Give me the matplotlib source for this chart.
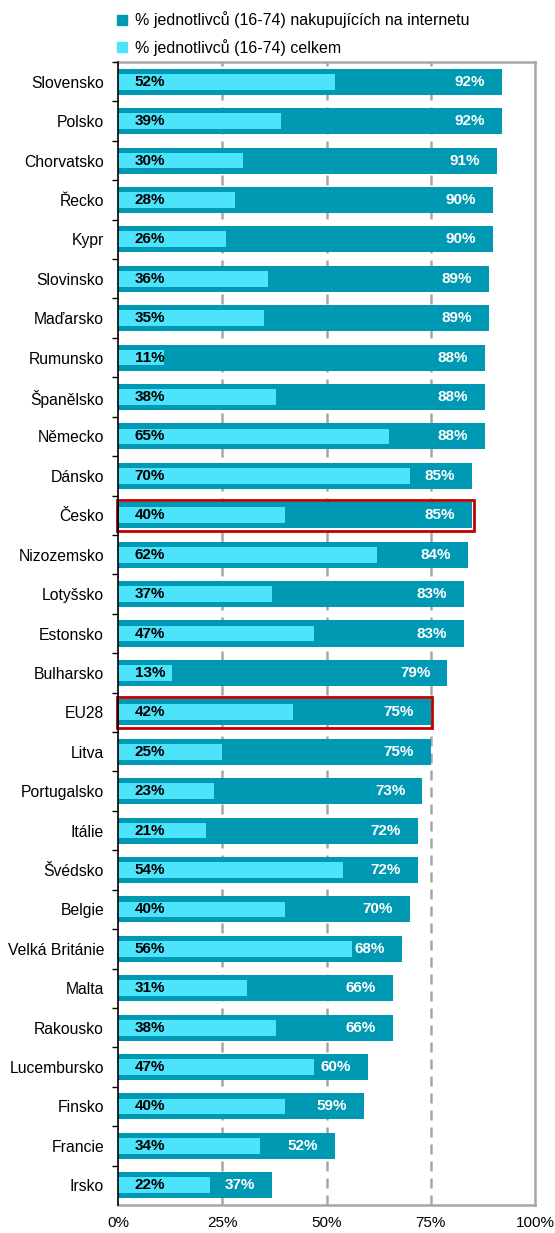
import matplotlib
matplotlib.use("Agg")
import matplotlib.pyplot as plt
from matplotlib.patches import Rectangle
from matplotlib.lines import Line2D
from matplotlib.ticker import FixedLocator

plt.rcParams['font.family'] = ['Liberation Sans', 'DejaVu Sans']

countries = ["Slovensko", "Polsko", "Chorvatsko", "Řecko", "Kypr", "Slovinsko",
             "Maďarsko", "Rumunsko", "Španělsko", "Německo", "Dánsko", "Česko",
             "Nizozemsko", "Lotyšsko", "Estonsko", "Bulharsko", "EU28", "Litva",
             "Portugalsko", "Itálie", "Švédsko", "Belgie", "Velká Británie",
             "Malta", "Rakousko", "Lucembursko", "Finsko", "Francie", "Irsko"]
internet_users = [92, 92, 91, 90, 90, 89, 89, 88, 88, 88, 85, 85, 84, 83, 83, 79,
                  75, 75, 73, 72, 72, 70, 68, 66, 66, 60, 59, 52, 37]
all_individuals = [52, 39, 30, 28, 26, 36, 35, 11, 38, 65, 70, 40, 62, 37, 47, 13,
                   42, 25, 23, 21, 54, 40, 56, 31, 38, 47, 40, 34, 22]
highlighted = ["Česko", "EU28"]
x_ticks = [0, 25, 50, 75, 100]
legend_labels = ["% jednotlivců (16-74) nakupujících na internetu",
                 "% jednotlivců (16-74) celkem"]

dark = "#0099b4"
light = "#4ce3fb"
grid_col = "#a6a6a6"
red = "#c00000"

W, H = 555, 1233
fig = plt.figure(figsize=(W / 100, H / 100), dpi=100)
ax = fig.add_axes([118 / W, 1 - 1205 / H, (535 - 118) / W, (1205 - 62) / H])

ypos = list(range(len(countries)))
ax.barh(ypos, internet_users, height=0.66, color=dark, zorder=2)
ax.barh(ypos, all_individuals, height=0.40, color=light, zorder=3)

for y, outer, inner in zip(ypos, internet_users, all_individuals):
    ax.text(4.0, y, f"{inner}%", ha="left", va="center", fontsize=11,
            fontweight="bold", color="black", zorder=5)
    ax.text(outer - 4.1, y, f"{outer}%", ha="right", va="center", fontsize=11,
            fontweight="bold", color="white", zorder=5)

for name in highlighted:
    i = countries.index(name)
    ax.add_patch(Rectangle((-0.2, i - 0.39), internet_users[i] + 0.6, 0.78,
                           fill=False, edgecolor=red, linewidth=2.0,
                           zorder=6, clip_on=False))

ax.set_xlim(0, 100)
ax.set_ylim(len(countries) - 0.5, -0.5)
ax.set_xticks(x_ticks)
ax.set_xticklabels([f"{v}%" for v in x_ticks], fontsize=11)
ax.tick_params(axis="x", length=0, pad=8)
ax.set_yticks(ypos)
ax.set_yticklabels(countries, fontsize=11.3)
ax.tick_params(axis="y", which="major", length=0, pad=10)
ax.yaxis.set_minor_locator(FixedLocator([y + 0.5 for y in ypos[:-1]] + [-0.5]))
ax.tick_params(axis="y", which="minor", length=4, width=1, color="black", direction="out")

for v in x_ticks[1:-1]:
    ax.axvline(v, color=grid_col, linewidth=1.8, linestyle=(0, (4, 2.8)), zorder=1)

for side in ["top", "right", "bottom"]:
    ax.spines[side].set_color(grid_col)
    ax.spines[side].set_linewidth(1.8)
ax.spines["left"].set_color("black")
ax.spines["left"].set_linewidth(1.2)
ax.spines["left"].set_zorder(7)

handles = [Line2D([], [], marker="s", linestyle="none", markersize=6.5,
                  markerfacecolor=c, markeredgecolor=c) for c in (dark, light)]
fig.legend(handles, legend_labels, loc="upper left",
           bbox_to_anchor=(106 / W, 1 - 5 / H), frameon=False, fontsize=11.5,
           handletextpad=0.2, labelspacing=0.65, handlelength=1.2,
           borderaxespad=0)

fig.savefig("out.png", dpi=100)
